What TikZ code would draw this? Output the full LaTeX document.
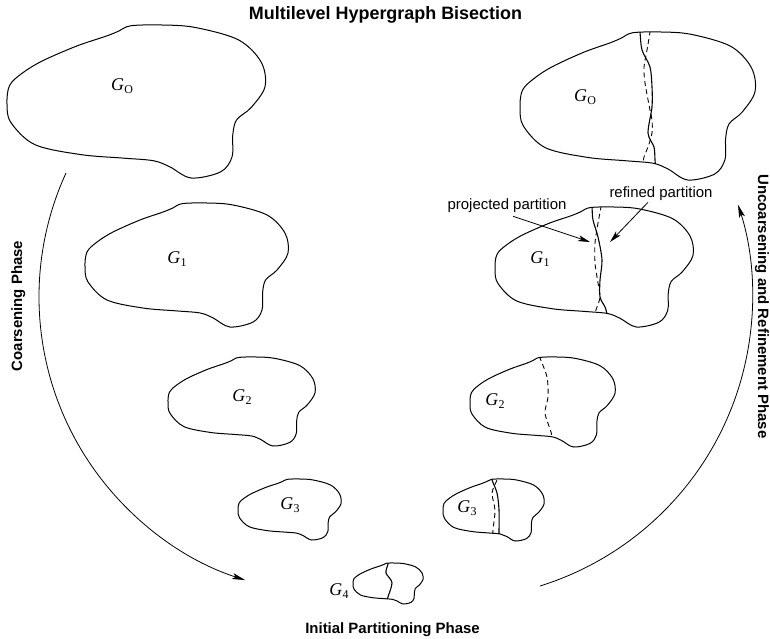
\documentclass[tikz,border=0pt]{standalone}
\usepackage{fontspec}
\setmainfont{Liberation Serif}
\newfontfamily\lsans{Liberation Sans}
\usetikzlibrary{arrows.meta}
\def\blobshape{plot[smooth cycle, tension=0.55] coordinates {(0.384,0.073) (0.433,0.04) (0.48,0.005) (0.6,0.0) (0.729,0.016) (0.897,0.097) (0.985,0.242) (1.0,0.403) (0.946,0.54) (0.89,0.62) (0.875,0.72) (0.872,0.863) (0.828,0.96) (0.714,1.0) (0.631,0.927) (0.567,0.887) (0.45,0.87) (0.286,0.847) (0.108,0.782) (0.015,0.637) (0,0.516) (0.01,0.395) (0.059,0.315) (0.138,0.234) (0.271,0.137)}}
\newcommand\drawblob[4]{\draw[outline, shift={(#1,#2)}, xscale=#3, yscale=#4] \blobshape;}
\newcommand\clipblob[4]{\clip[shift={(#1,#2)}, xscale=#3, yscale=#4] \blobshape;}
\newcommand\Gsub[1]{{\fontsize{18}{18}\selectfont\itshape G}\kern0.3bp\raisebox{-3bp}{\fontsize{12}{12}\selectfont #1}}
\begin{document}
\begin{tikzpicture}[x=1bp,y=-1bp,
 outline/.style={line width=1bp},
 solidpart/.style={line width=1.1bp},
 dashpart/.style={line width=0.9bp, dash pattern=on 5bp off 3.5bp},
 phasearrow/.style={line width=0.8bp, -{Stealth[length=13bp,width=6bp,inset=3bp]}},
 ptr/.style={line width=0.8bp, -{Stealth[length=12bp,width=6bp,inset=3bp]}},
 glabel/.style={inner sep=0},
 phase/.style={font=\lsans\bfseries\fontsize{15}{18}\selectfont, inner sep=0},
 note/.style={font=\lsans\fontsize{15}{18}\selectfont, inner sep=1bp},
]
\useasboundingbox (0,0) rectangle (770,639);
\fill[white] (0,0) rectangle (770,639);

% title and phase labels
\node[phase, font=\lsans\bfseries\fontsize{18}{20}\selectfont, anchor=base] (title) at (385.5,19.5) {Multilevel Hypergraph Bisection};
\node[phase, rotate=90, anchor=base] (coarse) at (22,306) {Coarsening Phase};
\node[phase, rotate=-90, anchor=base] (uncoarse) at (758,306.5) {Uncoarsening and Refinement Phase};
\node[phase, anchor=base] (initial) at (392.5,633) {Initial Partitioning Phase};

% left column (coarsening)
\drawblob{7}{25}{258}{153}
\drawblob{85}{203}{203}{124}
\drawblob{168}{357}{147}{89}
\drawblob{238}{479}{103}{61}
\node[glabel] (gl0) at (122,86) {\Gsub{O}};
\node[glabel] (gl1) at (177,259) {\Gsub{1}};
\node[glabel] (gl2) at (242,397) {\Gsub{2}};
\node[glabel] (gl3) at (290,505) {\Gsub{3}};

% coarsest graph
\drawblob{353}{563}{70}{41}
\node[glabel] (g4) at (339,591) {\Gsub{4}};
\begin{scope}
\clipblob{353}{563}{70}{41}
\draw[solidpart] plot[smooth] coordinates {(389,556) (388,564) (386,573) (392,583) (387,600) (386,610)};
\end{scope}

% right column (uncoarsening)
\drawblob{520}{32}{235}{148}
\drawblob{495}{207}{198}{120}
\drawblob{470}{357}{145}{90}
\drawblob{443}{479}{101}{62}
\node[glabel] (gr0) at (585,97) {\Gsub{O}};
\node[glabel] (gr1) at (540,259) {\Gsub{1}};
\node[glabel] (gr2) at (495,401) {\Gsub{2}};
\node[glabel] (gr3) at (467,508) {\Gsub{3}};

\begin{scope}
\clipblob{520}{32}{235}{148}
\draw[solidpart] plot[smooth] coordinates {(639,22) (640,32) (642,50) (650,67) (652,87) (652,107) (648,133) (654,147) (655,160) (656,172)};
\draw[dashpart] plot[smooth] coordinates {(651,22) (650,32) (647,50) (644,67) (645,83) (650,110) (652,120) (652,133) (648,147) (644,157) (642,170)};
\end{scope}
\begin{scope}
\clipblob{495}{207}{198}{120}
\draw[solidpart] plot[smooth] coordinates {(591,197) (592,207) (593,220) (598,237) (602,260) (600,280) (600,297) (605,307) (607,314) (608,322)};
\draw[dashpart] plot[smooth] coordinates {(602,197) (601,207) (598,223) (595,243) (595,263) (598,283) (600,297) (597,307) (594,316) (593,324)};
\end{scope}
\begin{scope}
\clipblob{470}{357}{145}{90}
\draw[dashpart] plot[smooth] coordinates {(537,348) (540,358) (547,377) (548,397) (545,413) (551,432) (553,445)};
\end{scope}
\begin{scope}
\clipblob{443}{479}{101}{62}
\draw[solidpart] plot[smooth] coordinates {(490,472) (492,480) (497,493) (499,510) (499,533) (499,545)};
\draw[dashpart] plot[smooth] coordinates {(499,472) (497,480) (492,493) (495,510) (493,530) (492,545)};
\end{scope}

% partition notes
\node[note, anchor=base] (proj) at (507,210) {projected partition};
\node[note, anchor=base] (ref) at (661,198) {refined partition};
\coordinate (projtip) at (590,242);
\coordinate (reftip) at (610,242);
\draw[ptr] ([xshift=6bp,yshift=-2bp]proj.south) -- (projtip);
\draw[ptr] ([xshift=-13bp]ref.south) -- (reftip);

% phase arcs
\coordinate (cstart) at (66,173);
\coordinate (ustart) at (540,586);
\draw[phasearrow] (cstart) arc[start angle=204.6, end angle=107.9, radius=297.6];
\draw[phasearrow] (ustart) arc[start angle=72.7, end angle=-17.8, radius=302.5];
\end{tikzpicture}
\end{document}
